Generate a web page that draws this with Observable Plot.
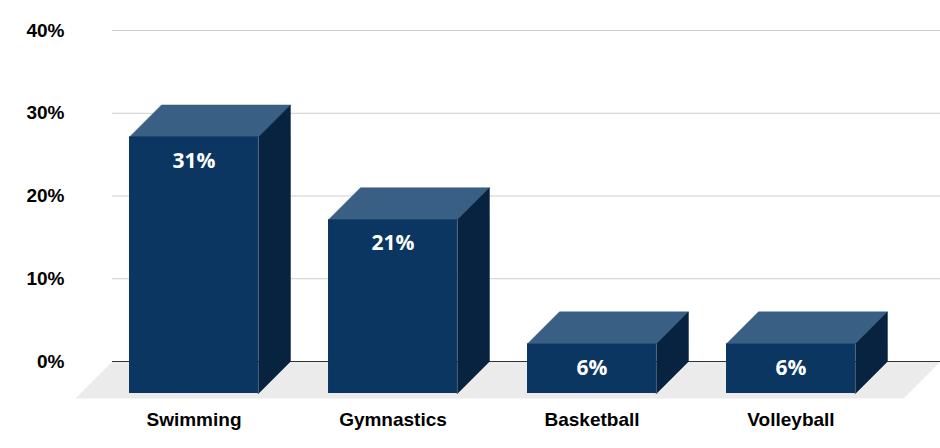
<!DOCTYPE html>
<html><head><meta charset="utf-8">
<script src="https://cdn.jsdelivr.net/npm/d3@7"></script>
<script src="https://cdn.jsdelivr.net/npm/@observablehq/plot@0.6"></script>
<style>body{margin:0;background:#fff} svg{display:block}</style>
</head><body><div id="chart"></div>
<script>
// ---- data ----
const sports = ["Swimming", "Gymnastics", "Basketball", "Volleyball"];
const shares = [31, 21, 6, 6];
const yTicks = [0, 10, 20, 30, 40];

// ---- layout / style ----
const W = 940, H = 448, mL = 112, mR = 0, mT = 30, mB = 87;
const xDomain = [-0.4095, 3.7513];
const yDomain = [0, 40];
const pxX = (W - mL - mR) / (xDomain[1] - xDomain[0]);
const pxY = (H - mT - mB) / (yDomain[1] - yDomain[0]);
const depthPx = 32, floorPx = 37;
const dX = depthPx / pxX, dY = depthPx / pxY;
const fX = floorPx / pxX, fY = floorPx / pxY;
const half = 0.648 / 2;
const cFront = "#0a3661", cTop = "#3a5f84", cSide = "#072340", cFloor = "#ebebeb";
const sans = "'Liberation Sans', Arial, sans-serif";

const rows = sports.map((s, i) => ({s, i, v: shares[i]}));
const topPts = rows.flatMap(d => [
  {k: d.s, x: d.i - half, y: d.v - dY},
  {k: d.s, x: d.i - half + dX, y: d.v},
  {k: d.s, x: d.i + half + dX, y: d.v},
  {k: d.s, x: d.i + half, y: d.v - dY}
]);
const sidePts = rows.flatMap(d => [
  {k: d.s, x: d.i + half, y: d.v - dY},
  {k: d.s, x: d.i + half + dX, y: d.v},
  {k: d.s, x: d.i + half + dX, y: 0},
  {k: d.s, x: d.i + half, y: -dY}
]);
const floorPts = [
  {x: xDomain[0], y: 0}, {x: xDomain[1], y: 0},
  {x: xDomain[1] - fX, y: -fY}, {x: xDomain[0] - fX, y: -fY}
];

const chart = Plot.plot({
  width: W, height: H,
  marginLeft: mL, marginRight: mR, marginTop: mT, marginBottom: mB,
  x: {type: "linear", domain: xDomain, axis: null, label: null},
  y: {domain: yDomain, axis: null, label: null},
  marks: [
    Plot.line(floorPts, {x: "x", y: "y", fill: cFloor, stroke: "none", curve: "linear-closed"}),
    Plot.ruleY(yTicks.filter(t => t > 0), {stroke: "#cfcfcf", strokeWidth: 1}),
    Plot.ruleY([0], {stroke: "#333", strokeWidth: 1}),
    Plot.line(topPts, {x: "x", y: "y", z: "k", fill: cTop, stroke: cTop, strokeWidth: 0.5, curve: "linear-closed"}),
    Plot.line(sidePts, {x: "x", y: "y", z: "k", fill: cSide, stroke: cSide, strokeWidth: 0.5, curve: "linear-closed"}),
    Plot.rect(rows, {x1: d => d.i - half, x2: d => d.i + half, y1: -dY, y2: d => d.v - dY, fill: cFront}),
    Plot.text(rows, {x: "i", y: d => d.v - dY, text: d => d.v + "%", dy: 24, fill: "white",
      fontSize: 21, fontWeight: "bold", fontFamily: "'Open Sans', sans-serif"}),
    Plot.axisY(yTicks, {tickSize: 0, tickPadding: 48, tickFormat: d => d + "%", label: null,
      fontSize: 19, fontWeight: "bold", fontFamily: sans, fill: "#000"}),
    Plot.axisX(rows.map(d => d.i), {tickSize: 0, tickPadding: 51, tickFormat: i => sports[i], label: null,
      fontSize: 19, fontWeight: "bold", fontFamily: sans, fill: "#000"})
  ]
});
document.getElementById("chart").append(chart);
</script>
</body></html>
